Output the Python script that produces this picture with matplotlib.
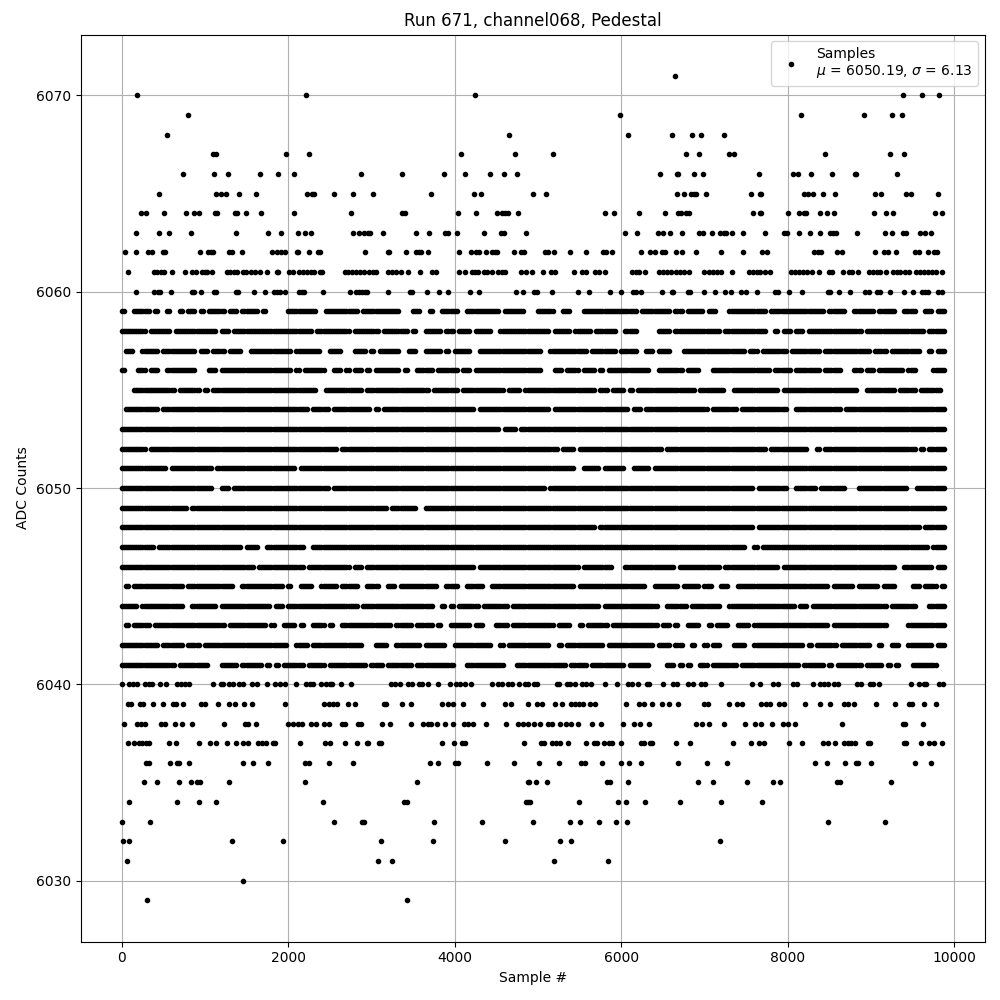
"""
Pedestal scan of one ADC channel: every sample is one dot at its integer ADC level.
Sparse levels are plain sample lists, the crowded middle levels are occupancy
strings with one character per 50 samples ("x" = samples sit in that bin, taken
as one at the start and one halfway, which is about what the level counts give).
"""

import numpy as np
import matplotlib.pyplot as plt

# --- sparse levels, sample numbers ---
adc_6071 = [6648]
adc_6070 = [188, 2216, 4244, 9384, 9612, 9816]
adc_6069 = [800, 5988, 8160, 8916, 9252, 9372]
adc_6068 = [548, 4652, 6084, 6612, 6852, 6960, 7236]
adc_6067 = [1100, 1128, 1976, 2252, 4076, 4724, 5184, 6780, 6936, 7296, 7356, 8448, 9228, 9396]
adc_6066 = [740, 1112, 1280, 1664, 1880, 2072, 2876, 3368, 3872, 4124, 4424, 4592, 4748,
            6468, 6672, 6684, 6876, 6984, 7656, 8064, 8124, 8280, 8532, 8808, 8820, 9312]
adc_6065 = [452, 1136, 1196, 1256, 1412, 1616, 2228, 2288, 2312, 2552, 2780, 3020, 3716, 4232,
            4316, 4944, 5100, 6672, 6756, 6840, 6876, 6900, 7020, 7560, 7668, 7680, 8196, 8244,
            8304, 8424, 8568, 9048, 9120, 9420, 9480, 9804]
adc_6064 = [236, 296, 512, 776, 872, 932, 1124, 1148, 1364, 1388, 1496, 1676, 2072, 2756, 3368,
            3404, 4040, 4256, 4508, 4568, 4604, 4640, 4760, 5808, 5916, 6216, 6528, 6684, 6720,
            6780, 6816, 7584, 7668, 7680, 8004, 8136, 8196, 8220, 8388, 8472, 8556, 9036, 9180,
            9264, 9768, 9852]
adc_6063 = [176, 452, 572, 836, 1376, 1760, 1916, 2120, 2204, 2276, 2780, 2852, 2912, 2960, 2984,
            3140, 3536, 3692, 3884, 3920, 4028, 4352, 4556, 4592, 4856, 6040, 6192, 6444, 6504,
            6588, 6732, 6936, 6984, 7092, 7188, 7236, 7260, 7332, 7464, 7728, 7956, 7992, 8136,
            8268, 8388, 8508, 8544, 8580, 8832, 9168, 9252, 9384, 9420, 9588, 9648, 9720]
adc_6062 = [36, 168, 320, 368, 500, 520, 944, 1040, 1076, 1100, 1292, 1328, 1448, 1808, 1868,
            1916, 1964, 2108, 2120, 2252, 2360, 2384, 2924, 3200, 3212, 3416, 3536, 3572, 3596,
            3680, 4052, 4196, 4256, 4292, 4376, 4448, 4484, 4508, 4712, 4796, 4832, 5088, 5124,
            5196, 5388, 5580, 5784, 5820, 5892, 6240, 6348, 6408, 6492, 6528, 6660, 6732, 6900,
            7200, 7464, 7692, 7752, 8316, 8364, 8400, 8592, 8652, 9048, 9156, 9204, 9296, 9528,
            9576, 9684, 9756, 9792]
adc_6061 = [80, 392, 428, 476, 512, 604, 764, 848, 896, 968, 1004, 1028, 1088, 1268, 1304, 1352,
            1388, 1460, 1496, 1556, 1604, 1664, 1748, 1868, 1880, 2012, 2060, 2132, 2180, 2228,
            2276, 2312, 2384, 2408, 2684, 2720, 2768, 2816, 2864, 2912, 2972, 3020, 3056, 3200,
            3248, 3296, 3356, 3440, 3584, 3728, 3776, 4052, 4124, 4208, 4244, 4280, 4352, 4388,
            4448, 4520, 4568, 4604, 4796, 4856, 4932, 5064, 5160, 5208, 5436, 5532, 5580, 5688,
            5736, 5808, 6132, 6180, 6216, 6288, 6456, 6504, 6552, 6600, 6660, 6708, 6756, 6816,
            6996, 7056, 7104, 7152, 7200, 7332, 7536, 7584, 7632, 7668, 7728, 7788, 8040, 8088,
            8136, 8184, 8232, 8292, 8376, 8496, 8532, 8664, 8736, 8772, 8844, 8976, 9024, 9072,
            9108, 9180, 9264, 9312, 9348, 9408, 9456, 9540, 9588, 9636, 9684, 9732, 9780, 9852]
adc_6060 = [176, 392, 440, 464, 596, 848, 872, 956, 1112, 1136, 1376, 1400, 1592, 1724, 1832,
            1868, 1904, 1964, 2132, 2168, 2192, 2420, 2744, 2816, 2852, 2888, 2924, 2948, 3200,
            3464, 3488, 3668, 3812, 3920, 4184, 4292, 4736, 4820, 4956, 4992, 5172, 5484, 5616,
            5868, 6000, 6144, 6180, 6240, 6492, 6612, 6624, 6804, 6828, 6996, 7128, 7248, 7320,
            7440, 7500, 7632, 7848, 7884, 8016, 8172, 8484, 8508, 8616, 8748, 8928, 8976, 9072,
            9108, 9228, 9396, 9504, 9612, 9648, 9684, 9804, 9852]

# --- crowded levels, 200 characters = 50 samples each, left half then right half ---
mask_6059 = ("x..xxxx.x. .x..x.xx.x .xxxx.xx.x xxx.x..... xxxxxxx..x xxxxxxx.xx xxxxxxx... xx..x..xxx x..xxxxxxx x.xxxxx... "
             "xxxx..xx.. .xxxxxxxxx xxxx.xxxxx xx.xx.xxxx .xx...xxxx xxxxx.xxxx xxxxxxxxx. xxxx..xxxx x.xxxx..xx x..xx.xx..")
mask_6058 = ("xxxxxx.xxx xx.xxxxxxx xxx.xx.xxx xxxxxxxxxx xxxxxx.xxx xxxxx.xxxx xx.xxxxxx. x..xxxx.xx .xxx.xxxx. .xxxxxxxxx "
             "xxx.xxxx.x xxx.xxxxx. .xxx.....x xx.xxxxxxx xxxx.xxxxx xxxxx..x.x x.xx.xxxxx xxxxxxxx.x xxxxxxxxxx xxx.xxxx..")
mask_6057 = (".xx..xxxx. xxxxxxxx.x x.xxx.xxx. .xxxxxxxxx x.xxxxxx.. xxx...xxx. x.xxxxx..x x..xxxx.x. xxxx..xxxx xxxxxxxxxx "
             "x..xxxxxxx xx.xxxxxx. xxxx..xx.x xx...xxxxx xxxxxxxxxx .xx.xxxxxx .xxxxxxx.x xxxxxxxxxx .xxx.xxxxx xx..x.xx..")
mask_6056 = ("x...xx.xx. .xxxxxxx.. .xx.xxxxxx xxxxxxxxxx x.x.xxxxx. .xx.x.xx.x .xxxxxx.x. .xxxx.xxxx x.xx.xxxxx xxxxxxxxxx "
             "x...xx.xxx .xxx.x.xxx xxxxxxx..x xxxxx.xxx. ..xxxxxxxx xxxxxx.xxx x.xxxxxx.x xxx...xx.x x.xxxxxx.x x....xxx..")
mask_6055 = ("...xxxxxxx xxx.xxxxx. x.xxxxxxxx xxxxxxxxxx xxxxxxx..x xxxxxxxx.x xxxxxxxxxx xxxx.xxxxx x.xxxxxxxx xx.xxx.xxx "
             "xxxxxxxxxx xxxx.xx.xx x.x.xxxxxx xxxxxxxx.x xxxxx..xxx xxxxxxxx.x xxxxxxxxxx xxxxxxx..x xxxxxx.xxx x.xxxxx...")
mask_6054 = (".xxxxxxxx. xxxxxxxxxx xxxxxxxxxx xxxxxxxxxx xxxxx.xxxx .xxxxxxxxx .x.xxxxxxx xxxxxxxxxx xxxxx.xxxx xxxxxxxxxx "
             "xxx.xxxxxx xxxxxxxxxx xx.xx.xxxx xxxxxxxxxx x.xxxxxx.x xxxxxxxxxx ..xxxxxxxx xxx.xxxxxx xxxxxxxxxx xxxxxxxx..")
mask_6053 = ("xxxxxxxxxx xxxxxxxxxx xxxxxxxxxx xxxxxxxxxx xxxxxxxxxx xxxxxxxxxx xxxxxxxxxx xxxxxxxxxx xxxxxxxxxx x.xxx.xxxx "
             "xxxxxxxxxx xxxxxxxxxx xxxxxxxxxx xxxxxxxxxx xxxxxxxxxx xxxxxxxxxx xxxxxxxxxx xxxxxxxxxx xxxxxxxxxx xxxxxxxx..")
mask_6052 = ("xxxxxx.xxx xxxxxxxxxx xxxxxxxxxx xxxxxxxxxx xxxxxxxxxx xx.xxxxxxx xxxxxxxxxx xxxxxxxxxx xxxxxxxxxx xxxxxxxxxx "
             "xxxxx.xxx. xxxxxxxxxx xxxxxxxxxx .xxxxxxxxx xxxxxxxxxx xxxxx.xxxx xxxxx..x.x xxxxxxxxxx xxxxxxxxxx x.x.xxxx..")
mask_6051 = ("xxxxxxxxxx x.xxxxxxxx xx.xxxxxxx xxxxxxxxxx xx.xxxxxxx xxxxxxxxxx xxxxxxxxxx xxxxxxxxxx xxxxxxxxxx xxxxxxxxxx "
             "xxxxxxxxx. .xxxx.xxxx x..xxxx.xx xxxxxxxxxx xxxxxxxxxx xxxxxxxxxx xxxxxxxxxx xxxxxxxxxx xxxxxxxxxx xxxxxxxx..")
mask_6050 = ("xxxxxxxxxx xxxxxxxxxx xx..xx.xxx xxxxxxxxxx xxxxxxxxxx .xxxxxxxxx xxxxxxxxxx xxxxxxxxxx xxxxxxxxxx xxxxxxxxxx "
             "xx.xxxxxxx xxxxxxxxxx xxxxxxxxxx xxxxxxxxxx xxxxxxxxxx xx.xxxxxxx ..xxxxx.xx xxxx...xxx xxxxxxxxx. .xxxxxxx..")
mask_6049 = ("xxxxxxxxxx xxxxxx.xxx xxxxxxxxxx xxxxxxxxxx xxxxxxxxxx xxxxxxxxxx xxxx.xxxxx x..xxxxxxx xxxxxxxxxx xxxxxxxxxx "
             "xxxxxxxxxx xxxxxxxxxx xxxxxxxxxx xxxxxxxxxx xxxxxxxxxx xxxxxxxxxx xxxxxxxxxx xxxxxxxxxx xxxxxxxxxx xxxxxxxx..")
mask_6048 = ("xxxxxxxxxx xxxxxxxxxx xxxxxxxxxx xxxxxxxxxx xxxxxxxxxx xxxxxxxxxx xxxxxxxxxx xxxxxxxxxx xxxxxxxxxx xxxxxxxxxx "
             "xxxxxxxxxx xxxx.xxxxx xxxxxxxxxx xxxxxxxxxx xxxxxxxxxx xx.xxxxxxx xxxxxxxxxx xxxxxxxxxx xxxxxxxxxx xx.xxxxx..")
mask_6047 = ("xxxxxxxx.x xxxxxxxxxx xxxxxxxxx. xxx..xxxxx xxxx..xxxx xxxxxxxxxx xxxxxxxxxx xxxxxxxxxx xxxxxxxxxx xxxxxxxxxx "
             "xxxxxxxxxx xxxxxxxxxx xxxxxxxxxx xxxxxxxxxx xxxxxxxxxx ..x.xxxxxx xxxxxxxxxx xxxxxxxxxx xxxxxxxxxx xxxx.xxx..")
mask_6046 = ("xxxxxxxxxx xxxxxxxxxx xxxxxxxxxx xx.xxxxxxx xxxx.xxxxx xxxxx.xx.x xxxxxxxxxx xxxxxxxxxx xxxxx.xxxx xxxxxxxxxx "
             "xxxxxxxxxx .xxxxxxx.. .xxxxxxxxx xxx.xxxxxx xxxx.xxxxx xxxxxxxx.x xxxxxxxxxx xxxxxxxxxx xxxxxx..xx xxxxx.xx..")
mask_6045 = (".x.xxxxxxx xxxxx.xxxx xxxxxxx..x xxxxxxxxx. x..xxx..xx xx.xxxx..x xx..xx.xxx xxxxxx..xx x..xxxx..x xxxxxxxxxx "
             "xxxxxxxxx. xxxxxxxxxx xxxxxx..xx xxxx.xxxx. xx..xx..xx xxxxxxxxxx xxxxxxxxxx .xxxxx.xxx xx.xxx.... xx.xxx.x..")
mask_6044 = ("xxxx.xxxxx xxxxx..xxx xxx.xxxxxx xxxxxx.xx. xxxxxxxxxx xxxxxxx.xx xxxxxxxxxx xxxxx..x.x .xxxxx.xxx xxx.xxxxxx "
             "xxxxxxxxxx xxxxx.xxxx xxxxxxxxx. .xxxxx.xxx xxxx..xxxx xxxxxxxxxx xx.xx.xxxx xxxxxxxxxx xxxx.xxxxx x...xxxx..")
mask_6043 = (".x.xxxx.xx xxxxxxxxxx xxxxx.xxxx xxxxx.x..x xx.x..xxx. x..xxxxxxx xxxxx.xxxx .xxxx.x..x xxxx.xx... xxx.xxxxxx "
             "xxxx.xxx.. x.xxxxx.xx xxxxxxxxx. xx.x..xxx. .x.xxx..xx x.xxxxxxxx xxxxxxxxxx .xxxxxxxxx xxxx.....x xxxxxxxx..")
mask_6042 = ("xxxxxxxxx. xxxxx.xxx. xxxxxxxxxx xxxxxxxxxx ..xxx.xxxx xxxxxxxx.. .xxx..xxxx xx.xxxxx.. xxxxxxxxx. .x.xxxxxxx "
             "xxx..x.xxx xxxxxx.xxx xxxxxxxx.x xx.xx..x.. x.xx...xxx ..xxxxxxxx xxxx.x.xxx xx.xxxxxxx ..x..xx..x xxxxx.xx..")
mask_6041 = ("xxxxxxxxxx xxx.xxxxxx x...xxxx.x xxxx.x.x.x xxxx.xxxx. xxxxxxxxx. xxx.xxxxxx .xxxxxxxxx ...xxxxxxx xx...xxxxx "
             "xxxxxxx.xx xx.xxxxxxx x.xxxxx... .xx.x.x..x x.xxxxxx.x xxxxxxxxxx xxx.xxxxx. x.xxxxxx.x xxx.x.x... xxxxxx....")

# --- sparse levels below the crowded band ---
adc_6040 = [8, 92, 140, 188, 284, 332, 368, 464, 536, 668, 716, 764, 812, 1100, 1196, 1220, 1292,
            1340, 1412, 1460, 1568, 1628, 1748, 1844, 1904, 1964, 2096, 2216, 2264, 2300, 2396,
            2456, 2504, 2528, 2636, 2756, 3236, 3284, 3344, 3440, 3488, 3572, 3608, 3680, 3800,
            3944, 4016, 4064, 4124, 4196, 4448, 4520, 4568, 4640, 4688, 4772, 4844, 4880, 4956,
            4992, 5232, 5256, 5352, 5388, 5448, 5532, 5580, 5640, 5808, 5952, 6084, 6132, 6204,
            6312, 6336, 6504, 6624, 6672, 6804, 6864, 6960, 7008, 7200, 7572, 7668, 7824, 7884,
            8064, 8112, 8300, 8388, 8436, 8484, 8556, 8604, 8832, 8880, 8988, 9024, 9096, 9480,
            9576, 9636, 9660, 9816, 9864]
adc_6039 = [80, 116, 224, 260, 380, 496, 620, 656, 740, 956, 1004, 1160, 1292, 1364, 1472, 1568,
            1964, 2432, 2492, 2540, 2588, 2720, 2804, 3152, 3176, 3368, 3476, 3848, 3920, 3980,
            4100, 4340, 4604, 4676, 4880, 4992, 5052, 5208, 5292, 5400, 5448, 5496, 5544, 5628,
            5688, 6060, 6216, 6276, 6372, 6492, 6576, 6684, 6996, 7044, 7296, 7392, 7452, 7680,
            7740, 7788, 7896, 7956, 8208, 8388, 8508, 8676, 8724, 8796, 9060, 9288, 9456, 9492,
            9636, 9780]
adc_6038 = [32, 188, 236, 284, 476, 524, 644, 728, 848, 1232, 1484, 1520, 1616, 2000, 2060, 2120,
            2168, 2276, 2336, 2432, 2492, 2648, 2684, 2840, 2876, 3128, 3224, 3476, 3620, 3680,
            3716, 3788, 3884, 3980, 4112, 4160, 4220, 4376, 4616, 4760, 4820, 4880, 4952, 5024,
            5124, 5172, 5268, 5340, 5400, 5484, 5652, 5756, 6024, 6156, 6228, 6336, 6900, 6972,
            7056, 7236, 7488, 7608, 7680, 7812, 7944, 8004, 8088, 8652, 9384, 9408, 9624]
adc_6037 = [80, 152, 212, 248, 296, 332, 572, 656, 932, 1064, 1136, 1260, 1376, 1460, 1520, 1640,
            1688, 1736, 1820, 1844, 2144, 2444, 2504, 2684, 2828, 2948, 2960, 3092, 3116, 3848,
            3992, 4088, 4124, 4832, 5036, 5072, 5172, 5220, 5268, 5364, 5580, 5676, 5712, 5796,
            5856, 5892, 6000, 6240, 6276, 6348, 6372, 6660, 6828, 7344, 7560, 7656, 7716, 8016,
            8168, 8424, 8484, 8568, 8676, 8724, 8760, 8808, 8964, 8988, 9396, 9420, 9600, 9696,
            9756, 9852]
adc_6036 = [296, 332, 584, 668, 692, 812, 1460, 1580, 1760, 2204, 2252, 2492, 2780, 3704, 3800,
            4004, 4040, 4388, 4712, 5016, 5256, 5520, 5568, 5772, 6000, 6096, 6240, 6684, 7032,
            7272, 8328, 8472, 8688, 8820, 8844, 9000, 9528, 9720]
adc_6035 = [272, 428, 692, 836, 908, 944, 1292, 2204, 3548, 4880, 4892, 4980, 5112, 5832, 5868,
            6084, 6924, 7104, 7512, 7824, 7908, 8592, 8628, 9240]
adc_6034 = [92, 668, 932, 1136, 2420, 3392, 3428, 4856, 4880, 4904, 5496, 5964, 6060, 6288, 6708,
            7200, 7692]
adc_6033 = [8, 344, 2552, 2888, 2912, 3752, 4328, 4944, 5388, 5508, 5736, 5940, 6072, 8484, 9168]
adc_6032 = [20, 92, 1328, 1940, 3116, 3740, 4604, 5268, 5400, 7188]
adc_6031 = [68, 3080, 3248, 5196, 5844]
adc_6030 = [1460]
adc_6029 = [308, 3428]

sparse_levels = {
    6071: adc_6071, 6070: adc_6070, 6069: adc_6069, 6068: adc_6068, 6067: adc_6067,
    6066: adc_6066, 6065: adc_6065, 6064: adc_6064, 6063: adc_6063, 6062: adc_6062,
    6061: adc_6061, 6060: adc_6060, 6040: adc_6040, 6039: adc_6039, 6038: adc_6038,
    6037: adc_6037, 6036: adc_6036, 6035: adc_6035, 6034: adc_6034, 6033: adc_6033,
    6032: adc_6032, 6031: adc_6031, 6030: adc_6030, 6029: adc_6029,
}
crowded_levels = {
    6059: mask_6059, 6058: mask_6058, 6057: mask_6057, 6056: mask_6056, 6055: mask_6055,
    6054: mask_6054, 6053: mask_6053, 6052: mask_6052, 6051: mask_6051, 6050: mask_6050,
    6049: mask_6049, 6048: mask_6048, 6047: mask_6047, 6046: mask_6046, 6045: mask_6045,
    6044: mask_6044, 6043: mask_6043, 6042: mask_6042, 6041: mask_6041,
}

samples, counts = [], []
for level, xs in sparse_levels.items():
    samples.extend(xs)
    counts.extend([level] * len(xs))
for level, mask in crowded_levels.items():
    bins = np.flatnonzero(np.array(list(mask.replace(" ", ""))) == "x")
    samples.extend(bins * 50)
    samples.extend(bins * 50 + 25)
    counts.extend([level] * (2 * len(bins)))

fig, ax = plt.subplots(figsize=(10, 10), dpi=100)
ax.plot(samples, counts, "k.", label="Samples\n$\\mu$ = 6050.19, $\\sigma$ = 6.13")
ax.set_title("Run 671, channel068, Pedestal")
ax.set_xlabel("Sample #")
ax.set_ylabel("ADC Counts")
ax.legend(loc="upper right")
ax.grid(True)
fig.subplots_adjust(left=0.0805, right=0.985, top=0.9655, bottom=0.0585)
fig.savefig("out.png", dpi=100)
